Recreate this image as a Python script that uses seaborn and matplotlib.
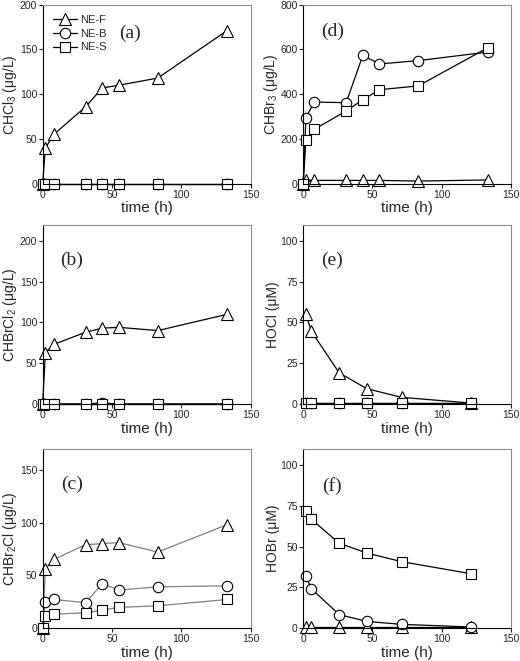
import matplotlib
matplotlib.use("Agg")
import matplotlib.pyplot as plt
import seaborn as sns
import pandas as pd

# sampling times
t_thm = [0, 2, 8, 31, 43, 55, 83, 133]
t_ox = [2, 6, 26, 46, 71, 121]

# (a) CHCl3
a_F = [0, 40, 55, 86, 107, 110, 118, 171]
a_B = [0, 0, 0, 0, 0, 0, 0, 0]
a_S = [0, 0, 0, 0, 0, 0, 0, 0]
# (b) CHBrCl2
b_F = [0, 63, 73, 88, 93, 94, 90, 110]
b_B = [0, 0, 0, 0, 1, 0, 0, 0]
b_S = [0, 0, 0, 0, 0, 0, 0, 0]
# (c) CHBr2Cl
c_F = [0, 56, 65, 79, 80, 81, 72, 98]
c_B = [0, 25, 27, 24, 42, 36, 39, 40]
c_S = [0, 11, 13, 14.5, 17, 19.5, 21, 27]
# (d) CHBr3
d_F = [0, 15, 15, 15, 15, 15, 12, 17]
d_B = [0, 295, 365, 362, 573, 535, 550, 588]
d_S = [0, 195, 243, 325, 375, 420, 437, 607]
# (e) HOCl
e_F = [55, 44.5, 19, 9.3, 4, 0.5]
e_B = [0.5, 0.5, 0.5, 0.5, 0.5, 0.5]
e_S = [0.5, 0.5, 0.5, 0.5, 0.5, 0.5]
# (f) HOBr
f_F = [0.5, 0.5, 0.5, 0.5, 0.5, 0.5]
f_B = [31.7, 24, 8.2, 4, 2.2, 0.6]
f_S = [71.6, 66.7, 52, 46, 40.7, 33.3]

series = ["NE-F", "NE-B", "NE-S"]
markers = {"NE-F": "^", "NE-B": "o", "NE-S": "s"}
msize = {"NE-F": 9, "NE-B": 7.5, "NE-S": 7}


def long_df(t, F, B, S):
    rows = []
    for name, vals in zip(series, [F, B, S]):
        for x, y in zip(t, vals):
            rows.append({"time": x, "val": y, "series": name})
    return pd.DataFrame(rows)


sns.set_style("ticks")
plt.rcParams["font.family"] = ["Liberation Sans", "DejaVu Sans"]
plt.rcParams["mathtext.fontset"] = "custom"
plt.rcParams["mathtext.rm"] = "Liberation Sans"
plt.rcParams["mathtext.it"] = "Liberation Sans:italic"

fig = plt.figure(figsize=(5.2, 6.61), dpi=100)
W, H = 0.400, 0.271
lefts = [0.082, 0.583]
bottoms = [0.722, 0.389, 0.050]

panels = [
    ("(a)", t_thm, a_F, a_B, a_S, r"CHCl$_3$ (μg/L)", 200, [0, 50, 100, 150, 200], 0, 0, "k", (0.42, 0.84)),
    ("(b)", t_thm, b_F, b_B, b_S, r"CHBrCl$_2$ (μg/L)", 220, [0, 50, 100, 150, 200], 0, 1, "k", (0.14, 0.80)),
    ("(c)", t_thm, c_F, c_B, c_S, r"CHBr$_2$Cl (μg/L)", 170, [0, 50, 100, 150], 0, 2, "0.5", (0.14, 0.80)),
    ("(d)", t_thm, d_F, d_B, d_S, r"CHBr$_3$ (μg/L)", 800, [0, 200, 400, 600, 800], 1, 0, "k", (0.14, 0.85)),
    ("(e)", t_ox, e_F, e_B, e_S, "HOCl (μM)", 110, [0, 25, 50, 75, 100], 1, 1, "k", (0.14, 0.80)),
    ("(f)", t_ox, f_F, f_B, f_S, "HOBr (μM)", 110, [0, 25, 50, 75, 100], 1, 2, "k", (0.14, 0.79)),
]

for tag, t, F, B, S, ylab, ytop, yticks, col, row, lc, tpos in panels:
    ax = fig.add_axes([lefts[col], bottoms[row], W, H])
    df = long_df(t, F, B, S)
    for name in series:
        sub = df[df["series"] == name]
        sns.lineplot(data=sub, x="time", y="val", ax=ax, color=lc, marker=markers[name],
                     markersize=msize[name], markerfacecolor="white", markeredgecolor="black",
                     markeredgewidth=0.8, linewidth=0.9, estimator=None, legend=False,
                     clip_on=False, label=name)
    ax.set_xlim(0, 150)
    ax.set_ylim(0, ytop)
    ax.set_xticks([0, 50, 100, 150])
    ax.set_yticks(yticks)
    ax.set_xlabel("time (h)", fontsize=11, labelpad=1)
    ax.set_ylabel(ylab, fontsize=10, labelpad=0.5)
    ax.tick_params(labelsize=7.5, length=3, width=0.8, pad=1.5)
    ax.tick_params(axis="y", pad=1)
    for s in ["top", "right"]:
        ax.spines[s].set_visible(True)
        ax.spines[s].set_color("0.55")
    for s in ["left", "bottom"]:
        ax.spines[s].set_color("black")
    ax.text(tpos[0], tpos[1], tag, transform=ax.transAxes, ha="center", va="center",
            fontsize=14, family="Liberation Serif")
    if tag == "(a)":
        ax.legend(loc="upper left", frameon=False, fontsize=8, handlelength=2.2,
                  borderaxespad=0.5, labelspacing=0.35, handletextpad=0.3)
    else:
        if ax.get_legend() is not None:
            ax.get_legend().remove()

fig.savefig("out.png", dpi=100)
